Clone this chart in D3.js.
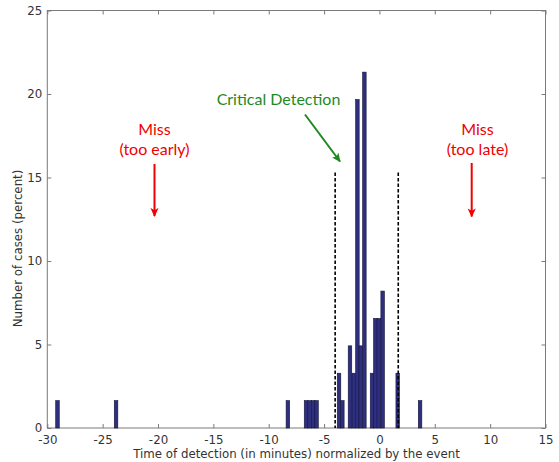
<!DOCTYPE html>
<html>
<head>
<meta charset="utf-8">
<script src="https://cdn.jsdelivr.net/npm/d3@7"></script>
<style>
  body { margin: 0; background: #fff; }
  svg { display: block; }
  .axis text { font-family: "DejaVu Sans", sans-serif; font-size: 11.8px; fill: #333; }
  .axis path { display: none; }
  .axis line { stroke: #7a7a7a; }
  .note { font-family: Lato, "Open Sans", sans-serif; font-size: 16px; text-anchor: middle; }
</style>
</head>
<body>
<div id="chart"></div>
<script>
// histogram bins: centre of bin (minutes) and share of cases (percent, n = 61)
var binCenters = [-29.08, -23.79, -8.27, -6.63, -6.31, -5.99, -5.68, -3.65, -3.35,
                  -2.66, -2.32, -1.99, -1.69, -1.36, -0.67, -0.37, -0.04, 0.29, 1.65, 3.67];
var binPercent = [1.64, 1.64, 1.64, 1.64, 1.64, 1.64, 1.64, 3.28, 1.64,
                  4.92, 3.28, 19.67, 4.92, 21.31, 3.28, 6.56, 6.56, 8.20, 3.28, 1.64];
var binWidth = 0.32;

// critical detection window
var windowEdges = [-4.0, 1.7];
var windowTop = 15.3;

var xTicks = [-30, -25, -20, -15, -10, -5, 0, 5, 10, 15];
var yTicks = [0, 5, 10, 15, 20, 25];

var width = 559, height = 462;
var svg = d3.select('#chart').append('svg')
    .attr('width', width)
    .attr('height', height);

var x = d3.scaleLinear().domain([-30, 15]).range([47.3, 545.5]);
var y = d3.scaleLinear().domain([0, 25]).range([428, 10.5]);

var defs = svg.append('defs');
function arrowHead(id, color) {
    defs.append('marker')
        .attr('id', id)
        .attr('viewBox', '0 -5 10 10')
        .attr('refX', 9)
        .attr('refY', 0)
        .attr('markerWidth', 4.5)
        .attr('markerHeight', 4.5)
        .attr('orient', 'auto')
        .append('path')
        .attr('d', 'M0,-4.5L10,0L0,4.5L2.5,0Z')
        .attr('fill', color);
}
arrowHead('head-red', '#f00000');
arrowHead('head-green', '#1e8a1e');

// axes: labelled bottom/left, bare ticks mirrored on top/right
var tickFmt = function(d) { return String(d); };
svg.append('g').attr('class', 'axis')
    .attr('transform', 'translate(0,' + y(0) + ')')
    .call(d3.axisBottom(x).tickValues(xTicks).tickSize(-4).tickPadding(7.5).tickFormat(tickFmt));
svg.append('g').attr('class', 'axis')
    .attr('transform', 'translate(0,' + y(25) + ')')
    .call(d3.axisTop(x).tickValues(xTicks).tickSize(-4).tickFormat(''));
svg.append('g').attr('class', 'axis')
    .attr('transform', 'translate(' + x(-30) + ',0)')
    .call(d3.axisLeft(y).tickValues(yTicks).tickSize(-4).tickPadding(5).tickFormat(tickFmt));
svg.append('g').attr('class', 'axis')
    .attr('transform', 'translate(' + x(15) + ',0)')
    .call(d3.axisRight(y).tickValues(yTicks).tickSize(-4).tickFormat(''));

svg.append('rect')
    .attr('x', x(-30))
    .attr('y', y(25))
    .attr('width', x(15) - x(-30))
    .attr('height', y(0) - y(25))
    .attr('fill', 'none')
    .attr('stroke', '#7a7a7a')
    .attr('stroke-width', 1);

// bars
svg.append('g').selectAll('rect')
    .data(binCenters.map(function(c, i) { return { c: c, p: binPercent[i] }; }))
    .enter().append('rect')
    .attr('x', function(d) { return x(d.c - binWidth / 2); })
    .attr('y', function(d) { return y(d.p); })
    .attr('width', function(d) { return x(d.c + binWidth / 2) - x(d.c - binWidth / 2); })
    .attr('height', function(d) { return y(0) - y(d.p); })
    .attr('fill', '#2f2f80')
    .attr('stroke', '#14143a')
    .attr('stroke-width', 0.6);

// dashed window edges
svg.append('g').selectAll('line')
    .data(windowEdges)
    .enter().append('line')
    .attr('x1', function(d) { return x(d); })
    .attr('x2', function(d) { return x(d); })
    .attr('y1', y(windowTop))
    .attr('y2', y(0))
    .attr('stroke', '#000')
    .attr('stroke-width', 1.6)
    .attr('stroke-dasharray', '3.5,2');

// axis titles
svg.append('text')
    .attr('x', 296.5)
    .attr('y', 457.5)
    .attr('text-anchor', 'middle')
    .style('font-family', '"DejaVu Sans", sans-serif')
    .style('font-size', '11.8px')
    .attr('fill', '#333')
    .text('Time of detection (in minutes) normalized by the event');

svg.append('text')
    .attr('transform', 'translate(22,248.5) rotate(-90)')
    .attr('text-anchor', 'middle')
    .style('font-family', '"DejaVu Sans", sans-serif')
    .style('font-size', '11.8px')
    .attr('fill', '#333')
    .text('Number of cases (percent)');

// annotations
function note(lines, cx, cy, color) {
    var t = svg.append('text').attr('class', 'note').attr('fill', color);
    lines.forEach(function(s, i) {
        t.append('tspan').attr('x', cx).attr('y', cy + i * 20.5).text(s);
    });
}
note(['Miss', '(too early)'], 154.5, 134.5, '#f00000');
note(['Miss', '(too late)'], 477.5, 134.5, '#f00000');
note(['Critical Detection'], 278.5, 105, '#1e8a1e');

function arrow(x1, y1, x2, y2, color, head) {
    svg.append('line')
        .attr('x1', x1).attr('y1', y1).attr('x2', x2).attr('y2', y2)
        .attr('stroke', color).attr('stroke-width', 2)
        .attr('marker-end', 'url(#' + head + ')');
}
arrow(154.5, 164, 154.5, 216, '#f00000', 'head-red');
arrow(471.7, 163, 471.7, 216.5, '#f00000', 'head-red');
arrow(305, 114.5, 340, 161.5, '#1e8a1e', 'head-green');
</script>
</body>
</html>
